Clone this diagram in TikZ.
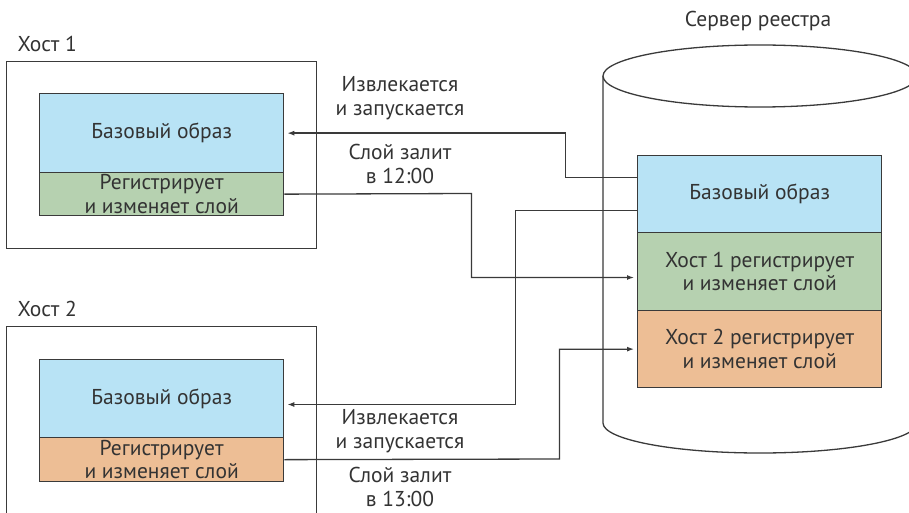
\documentclass[tikz,border=0pt]{standalone}
\usepackage{fontspec}
\setmainfont{PT Sans}
\usetikzlibrary{arrows.meta}
\definecolor{txt}{HTML}{333333}
\definecolor{ln}{HTML}{3a3a3a}
\definecolor{cblue}{HTML}{B8E3F5}
\definecolor{cgreen}{HTML}{B6D1B0}
\definecolor{corange}{HTML}{EDBE95}
\begin{document}
\begin{tikzpicture}[x=1pt,y=-1pt,
  every node/.style={text=txt,font=\fontsize{21.5}{23.5}\selectfont},
  layer/.style={draw=ln,line width=1.3pt,minimum width=244pt,anchor=north west,inner sep=0pt,align=center},
  hostbox/.style={draw=ln,line width=1.3pt,minimum width=310pt,minimum height=187pt,anchor=north west,inner sep=0pt},
  lbl/.style={align=center,inner sep=0pt},
  conn/.style={draw=ln,line width=1.3pt},
  arr/.style={conn,-{Latex[length=7pt,width=5pt]},shorten >=3pt}]
\useasboundingbox (0,0) rectangle (909,513);
% hosts
\node[hostbox] (h1) at (6,61) {};
\node[anchor=base west] (h1lab) at (14,52) {Хост 1};
\node[layer,fill=cblue,minimum height=79pt] (h1base) at (39,93) {Базовый образ};
\node[layer,fill=cgreen,minimum height=43pt] (h1layer) at (39,172) {Регистрирует\\и изменяет слой};
\node[hostbox] (h2) at (6,326) {};
\node[anchor=base west] (h2lab) at (14,316) {Хост 2};
\node[layer,fill=cblue,minimum height=78pt] (h2base) at (39,359) {Базовый образ};
\node[layer,fill=corange,minimum height=44pt] (h2layer) at (39,437) {Регистрирует\\и изменяет слой};
% cylinder
\draw[conn,fill=white] (603,76) -- (603,423) arc[start angle=180,end angle=360,x radius=157pt,y radius=30pt] -- (917,76);
\draw[conn,fill=white] (760,76) ellipse[x radius=157pt,y radius=31pt];
\node (srvlab) at (758,21) {Сервер реестра};
\node[layer,fill=cblue,minimum height=77pt] (rbase) at (637,155) {Базовый образ};
\node[layer,fill=cgreen,minimum height=78pt] (rl1) at (637,232) {Хост 1 регистрирует\\и изменяет слой};
\node[layer,fill=corange,minimum height=77pt] (rl2) at (637,310) {Хост 2 регистрирует\\и изменяет слой};
% connectors
\draw[arr] (rbase.west |- 0,177.5) -- (565.5,177.5) |- (h1base.east);
\draw[arr] (h1layer.east) -- (471.5,193.5) |- (rl1.west |- 0,277.5);
\draw[arr] (rbase.west |- 0,210.5) -- (515.5,210.5) |- (h2base.east |- 0,404.5);
\draw[arr] (h2layer.east) -- (559.5,459) |- (rl2.west);
% labels
\node[lbl] (l1) at (400,98) {Извлекается\\и запускается};
\node[lbl] (l2) at (400,164) {Слой залит\\в 12:00};
\node[lbl] (l3) at (400,431) {Извлекается\\и запускается};
\node[lbl] (l4) at (400,487) {Слой залит\\в 13:00};
\end{tikzpicture}
\end{document}
